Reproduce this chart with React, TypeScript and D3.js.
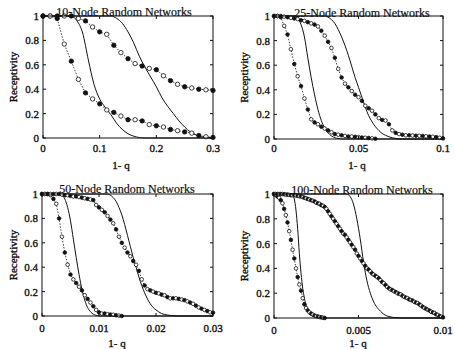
import React from 'react';
import * as d3 from 'd3';

const W = 455;
const H = 349;

const yTickValues = [0, 0.2, 0.4, 0.6, 0.8, 1];
const yTickLabels = ['0', '0.2', '0.4', '0.6', '0.8', '1'];
const xAxisLabel = '1- q';
const yAxisLabel = 'Receptivity';

// ---------- Panel 1: 10-node ----------
const p1Title = '10-Node Random Networks';
const p1XMax = 0.3;
const p1XTicks = [0, 0.1, 0.2, 0.3];
const p1XTickLabels = ['0', '0.1', '0.2', '0.3'];
const p1Step = 0.0125;
const p1SeriesA = [1, 1, 1, 1, 1, 0.98, 0.96, 0.91, 0.87, 0.85, 0.76, 0.70, 0.65, 0.61, 0.59, 0.57, 0.56, 0.51, 0.47, 0.44, 0.42, 0.41, 0.40, 0.395, 0.39];
const p1SeriesB = [1, 1, 0.98, 0.77, 0.63, 0.48, 0.37, 0.32, 0.28, 0.23, 0.21, 0.18, 0.15, 0.15, 0.14, 0.11, 0.10, 0.09, 0.07, 0.06, 0.05, 0.04, 0.02, 0.01, 0.005];
const p1CurveLowX = [0, 0.05, 0.06, 0.07, 0.08, 0.09, 0.1, 0.11, 0.12, 0.13, 0.14, 0.15, 0.16, 0.18, 0.3];
const p1CurveLowY = [1, 1, 0.96, 0.86, 0.64, 0.44, 0.32, 0.25, 0.19, 0.12, 0.07, 0.035, 0.015, 0, 0];
const p1CurveHighX = [0, 0.12, 0.13, 0.14, 0.15, 0.16, 0.17, 0.18, 0.19, 0.2, 0.21, 0.22, 0.23, 0.24, 0.25, 0.26, 0.27, 0.28, 0.29, 0.3];
const p1CurveHighY = [1, 1, 0.98, 0.94, 0.87, 0.78, 0.67, 0.58, 0.5, 0.42, 0.33, 0.26, 0.2, 0.14, 0.09, 0.05, 0.025, 0.01, 0.003, 0];

// ---------- Panel 2: 25-node ----------
const p2Title = '25-Node Random Networks';
const p2XMax = 0.1;
const p2XTicks = [0, 0.05, 0.1];
const p2XTickLabels = ['0', '0.05', '0.1'];
const p2Step = 0.002;
const p2SeriesA = [1, 1, 0.99, 0.92, 0.85, 0.73, 0.61, 0.51, 0.43, 0.33, 0.24, 0.16, 0.135, 0.12, 0.10, 0.085, 0.07, 0.055, 0.04, 0.035, 0.03, 0.025, 0.02, 0.02, 0.018, 0.015, 0.012, 0.01, 0.008, 0.005, 0.002];
const p2SeriesB = [1, 1, 1, 0.995, 0.99, 0.985, 0.98, 0.975, 0.965, 0.96, 0.95, 0.94, 0.93, 0.915, 0.88, 0.84, 0.79, 0.74, 0.66, 0.57, 0.50, 0.45, 0.42, 0.39, 0.36, 0.34, 0.31, 0.27, 0.25, 0.23, 0.20, 0.17, 0.155, 0.15, 0.12, 0.07, 0.05, 0.04, 0.035, 0.03, 0.03, 0.028, 0.027, 0.026, 0.025, 0.022, 0.02, 0.018, 0.015, 0.01, 0.005];
const p2CurveLowX = [0, 0.012, 0.014, 0.016, 0.018, 0.020, 0.022, 0.024, 0.026, 0.028, 0.030, 0.032, 0.034, 0.036, 0.038, 0.04, 0.1];
const p2CurveLowY = [1, 1, 0.98, 0.93, 0.83, 0.66, 0.50, 0.36, 0.24, 0.15, 0.09, 0.05, 0.025, 0.01, 0.004, 0, 0];
const p2CurveHighX = [0, 0.03, 0.032, 0.034, 0.036, 0.038, 0.040, 0.042, 0.044, 0.046, 0.048, 0.050, 0.052, 0.054, 0.056, 0.058, 0.060, 0.062, 0.064, 0.066, 0.068, 0.070, 0.072, 0.076, 0.1];
const p2CurveHighY = [1, 1, 0.99, 0.97, 0.94, 0.89, 0.83, 0.76, 0.68, 0.59, 0.50, 0.42, 0.34, 0.26, 0.19, 0.14, 0.10, 0.07, 0.045, 0.03, 0.018, 0.01, 0.005, 0, 0];

// ---------- Panel 3: 50-node ----------
const p3Title = '50-Node Random Networks';
const p3XMax = 0.03;
const p3XTicks = [0, 0.01, 0.02, 0.03];
const p3XTickLabels = ['0', '0.01', '0.02', '0.03'];
const p3Step = 0.0005;
const p3SeriesA = [1, 1, 1, 0.99, 0.96, 0.92, 0.80, 0.65, 0.52, 0.42, 0.34, 0.30, 0.27, 0.24, 0.21, 0.17, 0.14, 0.11, 0.08, 0.05, 0.03, 0.02, 0.02, 0.015, 0.012, 0.01, 0.006, 0.003, 0];
const p3SeriesB = [1, 1, 1, 1, 1, 1, 1, 0.995, 0.99, 0.99, 0.985, 0.98, 0.98, 0.975, 0.97, 0.965, 0.96, 0.955, 0.95, 0.91, 0.89, 0.87, 0.85, 0.82, 0.79, 0.76, 0.71, 0.65, 0.60, 0.56, 0.52, 0.49, 0.45, 0.42, 0.37, 0.30, 0.25, 0.22, 0.21, 0.20, 0.19, 0.185, 0.175, 0.17, 0.155, 0.145, 0.145, 0.145, 0.14, 0.135, 0.13, 0.12, 0.11, 0.10, 0.085, 0.07, 0.06, 0.05, 0.04, 0.03, 0.027];
const p3CurveLowX = [0, 0.003, 0.0035, 0.004, 0.0045, 0.005, 0.0055, 0.006, 0.0065, 0.007, 0.0075, 0.008, 0.0085, 0.009, 0.0095, 0.010, 0.03];
const p3CurveLowY = [1, 1, 0.99, 0.96, 0.89, 0.78, 0.63, 0.48, 0.34, 0.22, 0.13, 0.07, 0.035, 0.015, 0.005, 0, 0];
const p3CurveHighX = [0, 0.0115, 0.012, 0.0125, 0.013, 0.0135, 0.014, 0.0145, 0.015, 0.0155, 0.016, 0.0165, 0.017, 0.0175, 0.018, 0.0185, 0.019, 0.0195, 0.020, 0.021, 0.022, 0.023, 0.024, 0.03];
const p3CurveHighY = [1, 1, 0.99, 0.97, 0.94, 0.89, 0.83, 0.75, 0.66, 0.57, 0.48, 0.40, 0.32, 0.25, 0.19, 0.14, 0.10, 0.07, 0.05, 0.02, 0.008, 0.002, 0, 0];

// ---------- Panel 4: 100-node ----------
const p4Title = '100-Node Random Networks';
const p4XMax = 0.01;
const p4XTicks = [0, 0.005, 0.01];
const p4XTickLabels = ['0', '0.005', '0.01'];
const p4Step = 0.0001;
const p4SeriesA = [1, 0.995, 0.98, 0.97, 0.95, 0.925, 0.88, 0.83, 0.77, 0.70, 0.63, 0.55, 0.48, 0.40, 0.33, 0.27, 0.22, 0.16, 0.11, 0.08, 0.06, 0.045, 0.035, 0.027, 0.02, 0.015, 0.012, 0.008, 0.005, 0.002, 0];
const p4SeriesB = [
  1, 1, 1, 1, 1, 1, 0.998, 0.996, 0.995, 0.993, 0.99,
  0.99, 0.99, 0.988, 0.985, 0.982, 0.98, 0.975, 0.97, 0.965, 0.96,
  0.955, 0.95, 0.945, 0.94, 0.93, 0.925, 0.92, 0.91, 0.905, 0.895,
  0.88, 0.86, 0.84, 0.82, 0.80, 0.78, 0.76, 0.74, 0.72, 0.70,
  0.68, 0.67, 0.65, 0.63, 0.61, 0.59, 0.57, 0.55, 0.52, 0.50,
  0.48, 0.46, 0.44, 0.42, 0.40, 0.39, 0.375, 0.36, 0.35, 0.34,
  0.33, 0.32, 0.305, 0.29, 0.28, 0.265, 0.25, 0.24, 0.23, 0.225,
  0.215, 0.21, 0.20, 0.195, 0.19, 0.18, 0.17, 0.165, 0.16, 0.15,
  0.145, 0.14, 0.13, 0.125, 0.12, 0.11, 0.10, 0.09, 0.08, 0.075,
  0.065, 0.06, 0.05, 0.045, 0.04, 0.03, 0.025, 0.015, 0.01, 0.005,
];
const p4CurveLowX = [0, 0.001, 0.0011, 0.0012, 0.0013, 0.0014, 0.0015, 0.0016, 0.0017, 0.0018, 0.0019, 0.002, 0.0022, 0.0024, 0.0026, 0.0028, 0.01];
const p4CurveLowY = [1, 1, 0.99, 0.96, 0.87, 0.72, 0.52, 0.36, 0.24, 0.16, 0.10, 0.065, 0.025, 0.01, 0.003, 0, 0];
const p4CurveHighX = [0, 0.0043, 0.0045, 0.0047, 0.0049, 0.0051, 0.0053, 0.0055, 0.0057, 0.0059, 0.0061, 0.0063, 0.0065, 0.0068, 0.0072, 0.0076, 0.01];
const p4CurveHighY = [1, 1, 0.98, 0.92, 0.80, 0.64, 0.45, 0.30, 0.20, 0.13, 0.085, 0.055, 0.03, 0.012, 0.003, 0, 0];

const FONT = 'Liberation Serif, Times New Roman, DejaVu Serif, serif';
const INK = '#111';

type PanelProps = {
  left: number; right: number; top: number; bottom: number;
  title: string; titleX: number; titleY: number;
  xMax: number; xTicks: number[]; xTickLabels: string[];
  tickLabelY: number; xLabelX: number; xLabelY: number; yLabelX: number;
  step: number; seriesA: number[]; seriesB: number[];
  lowX: number[]; lowY: number[]; highX: number[]; highY: number[];
  markerR: number;
};

const textStyle = { fontFamily: FONT, fill: INK, stroke: INK, strokeWidth: 0.35 } as const;

function Panel(p: PanelProps) {
  const x = d3.scaleLinear().domain([0, p.xMax]).range([p.left, p.right]);
  const y = d3.scaleLinear().domain([0, 1]).range([p.bottom, p.top]);
  const dotted = d3.line<number>().x((_, i) => x(i * p.step)).y((v) => y(v));
  const smooth = d3.line<[number, number]>().x((d) => x(d[0])).y((d) => y(d[1])).curve(d3.curveMonotoneX);
  const lowPts = p.lowX.map((v, i) => [v, p.lowY[i]] as [number, number]);
  const highPts = p.highX.map((v, i) => [v, p.highY[i]] as [number, number]);
  const tl = 3;
  const renderMarkers = (arr: number[], key: string) =>
    arr.map((v, i) => (
      <circle
        key={key + i}
        cx={x(i * p.step)}
        cy={y(v)}
        r={p.markerR}
        fill={i % 2 === 0 ? INK : '#fff'}
        stroke={INK}
        strokeWidth={0.8}
      />
    ));
  const midY = (p.top + p.bottom) / 2;
  return (
    <g>
      <path d={smooth(lowPts) || ''} fill="none" stroke={INK} strokeWidth={1} />
      <path d={smooth(highPts) || ''} fill="none" stroke={INK} strokeWidth={1} />
      <path d={dotted(p.seriesA) || ''} fill="none" stroke={INK} strokeWidth={0.8} strokeDasharray="1.5,1.5" />
      <path d={dotted(p.seriesB) || ''} fill="none" stroke={INK} strokeWidth={0.8} strokeDasharray="1.5,1.5" />
      {renderMarkers(p.seriesA, 'a')}
      {renderMarkers(p.seriesB, 'b')}
      <rect x={p.left} y={p.top} width={p.right - p.left} height={p.bottom - p.top} fill="none" stroke={INK} strokeWidth={1} />
      {yTickValues.map((v, i) => (
        <g key={'yt' + i}>
          <line x1={p.left} x2={p.left + tl} y1={y(v)} y2={y(v)} stroke={INK} />
          <line x1={p.right} x2={p.right - tl} y1={y(v)} y2={y(v)} stroke={INK} />
          <text x={p.left - 4} y={y(v) + 4} textAnchor="end" fontSize={11} style={textStyle}>
            {yTickLabels[i]}
          </text>
        </g>
      ))}
      {p.xTicks.map((v, i) => (
        <g key={'xt' + i}>
          <line x1={x(v)} x2={x(v)} y1={p.bottom} y2={p.bottom - tl} stroke={INK} />
          <line x1={x(v)} x2={x(v)} y1={p.top} y2={p.top + tl} stroke={INK} />
          <text x={x(v)} y={p.tickLabelY} textAnchor="middle" fontSize={11} style={textStyle}>
            {p.xTickLabels[i]}
          </text>
        </g>
      ))}
      <text x={p.titleX} y={p.titleY} textAnchor="middle" fontSize={12} style={{ ...textStyle, strokeWidth: 0.2 }}>
        {p.title}
      </text>
      <text x={p.xLabelX} y={p.xLabelY} textAnchor="middle" fontSize={11} style={textStyle}>
        {xAxisLabel}
      </text>
      <text
        transform={`translate(${p.yLabelX},${midY}) rotate(-90)`}
        textAnchor="middle"
        fontSize={11}
        style={textStyle}
      >
        {yAxisLabel}
      </text>
    </g>
  );
}

export default function App() {
  return (
    <svg width={W} height={H} style={{ position: 'absolute', left: 0, top: 0, background: '#fff' }}>
      <rect x={0} y={0} width={W} height={H} fill="#fff" />
      <Panel
        left={43} right={213} top={16} bottom={138}
        title={p1Title} titleX={124} titleY={16}
        xMax={p1XMax} xTicks={p1XTicks} xTickLabels={p1XTickLabels}
        tickLabelY={152} xLabelX={121} xLabelY={169} yLabelX={17}
        step={p1Step} seriesA={p1SeriesA} seriesB={p1SeriesB}
        lowX={p1CurveLowX} lowY={p1CurveLowY} highX={p1CurveHighX} highY={p1CurveHighY}
        markerR={2.2}
      />
      <Panel
        left={274} right={443} top={16} bottom={139}
        title={p2Title} titleX={362} titleY={17}
        xMax={p2XMax} xTicks={p2XTicks} xTickLabels={p2XTickLabels}
        tickLabelY={152} xLabelX={357} xLabelY={169} yLabelX={248}
        step={p2Step} seriesA={p2SeriesA} seriesB={p2SeriesB}
        lowX={p2CurveLowX} lowY={p2CurveLowY} highX={p2CurveHighX} highY={p2CurveHighY}
        markerR={1.8}
      />
      <Panel
        left={42} right={213} top={194} bottom={316}
        title={p3Title} titleX={127} titleY={193}
        xMax={p3XMax} xTicks={p3XTicks} xTickLabels={p3XTickLabels}
        tickLabelY={332} xLabelX={117} xLabelY={347} yLabelX={17}
        step={p3Step} seriesA={p3SeriesA} seriesB={p3SeriesB}
        lowX={p3CurveLowX} lowY={p3CurveLowY} highX={p3CurveHighX} highY={p3CurveHighY}
        markerR={1.8}
      />
      <Panel
        left={274} right={443} top={194} bottom={318}
        title={p4Title} titleX={362} titleY={194}
        xMax={p4XMax} xTicks={p4XTicks} xTickLabels={p4XTickLabels}
        tickLabelY={334} xLabelX={358} xLabelY={347} yLabelX={248}
        step={p4Step} seriesA={p4SeriesA} seriesB={p4SeriesB}
        lowX={p4CurveLowX} lowY={p4CurveLowY} highX={p4CurveHighX} highY={p4CurveHighY}
        markerR={1.8}
      />
    </svg>
  );
}
